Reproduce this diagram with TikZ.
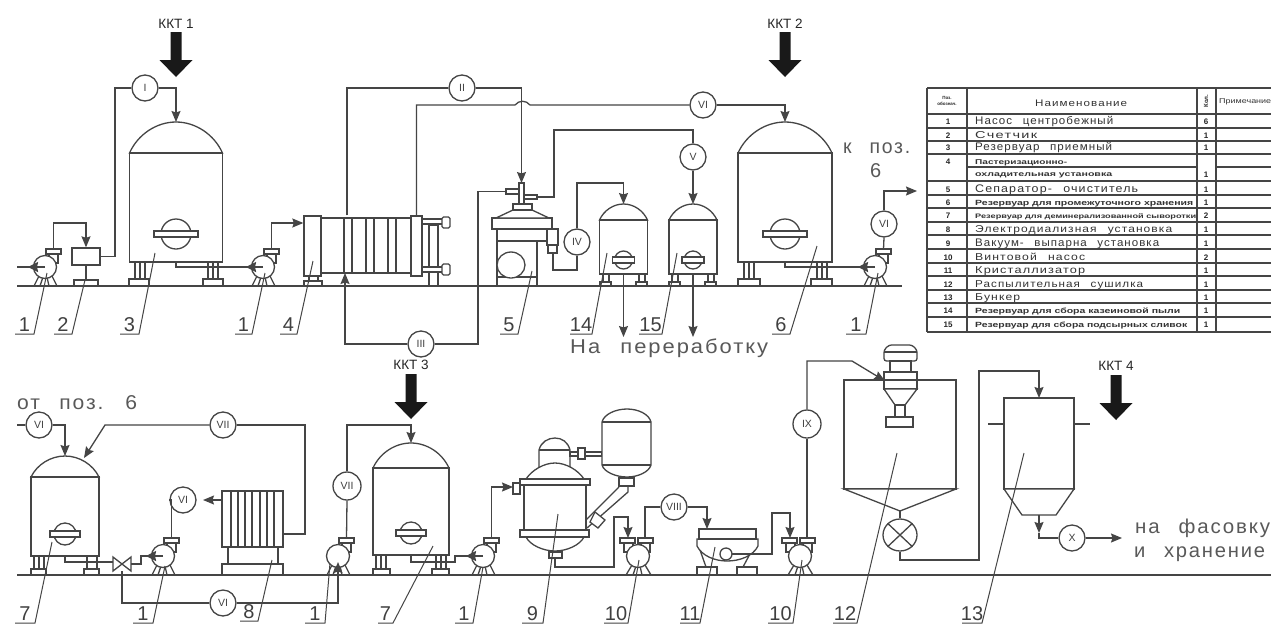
\documentclass[tikz,border=0pt]{standalone}
\usepackage{fontspec}
\setmainfont{Liberation Sans}
\newfontfamily\widefont[LetterSpace=9,WordSpace=2.5]{Liberation Sans}
\usepackage{graphicx}
\usetikzlibrary{arrows.meta,calc,shapes.geometric}
\definecolor{ink}{gray}{0.27}
\definecolor{txt}{gray}{0.25}
\newcommand\fitw[2]{\resizebox{#1pt}{\height}{#2}}
\newcommand\fs[1]{\fontsize{#1}{#1}\selectfont}
\newcommand\spaced{\widefont}
\tikzset{
  pipe/.style={draw=ink,line width=1.3pt,line join=miter},
  flow/.style={pipe,-{Stealth[length=11pt,width=9pt,inset=1.5pt]}},
  eqp/.style={draw=ink,line width=1.3pt,fill=white},
  lead/.style={draw=ink,line width=1pt},
  numc/.style={circle,draw=ink,line width=1.3pt,fill=white,minimum size=26pt,inner sep=0pt,text=txt,font=\fs{10.5}},
  poslbl/.style={text=txt,font=\fs{20},inner sep=0pt,anchor=base},
  big/.style={text=black!65,inner sep=0pt,anchor=base west,font=\fs{20}},
  kkt/.style={text=black!85,inner sep=0pt,font=\fs{13.5}},
  tcell/.style={text=black!80,inner sep=0pt,anchor=base west},
  tnum/.style={text=black!85,inner sep=0pt,anchor=base,font=\fs{8}\bfseries},
  tline/.style={draw=ink,line width=1.5pt},
}
% big black arrow: centre x, top y
\newcommand\bigarrow[2]{\fill[black!90] (#1-5.5,#2) -- (#1+5.5,#2) -- (#1+5.5,#2+28) -- (#1+16.5,#2+28) -- (#1,#2+45) -- (#1-16.5,#2+28) -- (#1-5.5,#2+28) -- cycle;}
% vessel: name, cx, top, shoulder, bottom, halfwidth
\newcommand\vessel[6]{%
  \pgfmathsetmacro\ha{#6}\pgfmathsetmacro\hh{#4-#3}%
  \pgfmathsetmacro\cxa{0.82*\ha}\pgfmathsetmacro\cxb{0.42*\ha}%
  \pgfmathsetmacro\cya{#4-0.6*\hh}%
  \begin{scope}[shift={(#2,0)}]
    \draw[eqp] (-\ha,#4) .. controls (-\cxa,\cya) and (-\cxb,#3) .. (0,#3) .. controls (\cxb,#3) and (\cxa,\cya) .. (\ha,#4) -- cycle;
    \draw[eqp] (-\ha,#4) rectangle (\ha,#5);
    \coordinate (#1-top) at (0,#3);
    \coordinate (#1-bot) at (0,#5);
  \end{scope}}
% manhole: cx, cy, r, band half width
\newcommand\manhole[4]{%
  \draw[eqp] (#1,#2) circle [radius=#3];
  \draw[eqp] (#1-#4,#2-3) rectangle (#1+#4,#2+3);}
% leg: x1,x2,ytop,ybase,bx1,bx2,yground
\newcommand\leg[7]{%
  \draw[eqp] (#1,#3) rectangle (#2,#4);
  \draw[eqp] (#5,#4) rectangle (#6,#7);}
% pump: name, cx, cy
\newcommand\pumpbody[3]{%
  \begin{scope}[shift={(#2,#3)}]
    \draw[pipe] (-6,9) -- (-11,19) (-2,10) -- (-5,19) (2,10) -- (4,19) (7,9) -- (12,19);
    \draw[eqp] (4,-13) rectangle (13,-4);
    \draw[eqp] (0,0) circle [radius=11.5];
    \draw[eqp] (1,-18) rectangle (16,-13);
    \coordinate (#1) at (0,0);
    \coordinate (#1-out) at (8.5,-18);
  \end{scope}}
\newcommand\pumpin[1]{\draw[pipe,line width=2pt,-{Stealth[length=10pt,width=10pt,inset=1pt]}] ($(#1)+(0,0)$) -- ($(#1)+(-17,0)$);}
% screw pump with two flanges
\newcommand\screwpump[3]{%
  \begin{scope}[shift={(#2,#3)}]
    \draw[pipe] (-6,9) -- (-12,19) (-2,10) -- (-5,19) (2,10) -- (4,19) (7,9) -- (13,19);
    \draw[eqp] (-14,-13) rectangle (-5,-4);
    \draw[eqp] (3,-13) rectangle (12,-4);
    \draw[eqp] (0,0) circle [radius=11.5];
    \draw[eqp] (-18,-18) rectangle (-3,-13);
    \draw[eqp] (0,-18) rectangle (15,-13);
    \coordinate (#1-in) at (-10,-18);
    \coordinate (#1-out) at (7,-18);
  \end{scope}}
% position label: name, x1, x2, y, leader end, text
\newcommand\plabel[6]{%
  \coordinate (#1-l) at (#2,#4);
  \coordinate (#1-r) at (#3,#4);
  \coordinate (#1-e) at (#5);
  \draw[lead] (#1-l) -- (#1-r) -- (#1-e);
  \node[poslbl] (#1) at ({(#2+#3)/2},#4-2.5) {#6};}
% table row: id, baseline y, text width, font style, text, qty
\newcommand\trow[6]{%
  \node[tnum] (t#1n) at (948,#2) {#1};
  \node[tcell,font=#4] (t#1) at (975,#2) {\fitw{#3}{#5}};
  \node[tnum] (t#1q) at (1206,#2) {#6};}

\begin{document}
\begin{tikzpicture}[x=1pt,y=-1pt]
\useasboundingbox (0,0) rectangle (1271,630);
\fill[white] (0,0) rectangle (1271,630);

% ---- ground lines
\coordinate (g1a) at (17,286); \coordinate (g1b) at (902,286);
\coordinate (g2a) at (17,575); \coordinate (g2b) at (1271,575);

% ---- top row equipment
\node[eqp,minimum width=28pt,minimum height=17pt,inner sep=0pt] (box2) at (86,256.5) {};
\draw[eqp] (74,280) rectangle (98,286);
\draw[pipe,line width=2pt] (box2.south) -- (86,280);

\vessel{t3}{176}{122}{153}{262}{46.5}
\leg{135}{145}{262}{279}{129}{149}{286}
\draw[pipe] (140,262) -- (140,279);
\leg{208}{218}{262}{279}{203}{223}{286}
\draw[pipe] (213,262) -- (213,279);
\manhole{176}{234}{15}{22}

\pumpbody{p1}{45}{267}
\pumpbody{p2}{263}{267}
\pumpbody{p3}{875}{267}

% heat exchanger 4
\draw[eqp] (309,276) rectangle (318,281);
\draw[eqp] (304,281) rectangle (322,286);
\draw[eqp] (321,218) rectangle (411,273);
\foreach \vx in {344,352,366,374,388,396} {\draw[pipe] (\vx,218) -- (\vx,273);}
\draw[eqp] (429,225) rectangle (438,286);
\draw[eqp] (422,219) rectangle (443,224);
\draw[eqp] (422,267) rectangle (443,272);
\draw[eqp,rounded corners=1.5pt] (442,217) rectangle (450,228);
\draw[eqp,rounded corners=1.5pt] (442,264) rectangle (450,275);
\node[eqp,minimum width=17pt,minimum height=60pt,inner sep=0pt] (hxl) at (312.5,246) {};
\node[eqp,minimum width=11pt,minimum height=60pt,inner sep=0pt] (hxr) at (416.5,246) {};
\coordinate (hxin) at (345,273);

% separator 5
\draw[eqp] (497,241) rectangle (537,286);
\draw[pipe] (497,277) -- (537,277);
\draw[eqp] (511,265) ellipse [x radius=14,y radius=13];
\draw[eqp] (497,229) rectangle (547,241);
\draw[eqp] (547,229) rectangle (558,245);
\draw[eqp] (548,245) rectangle (557,253);
\draw[eqp] (492,218) rectangle (552,229);
\draw[eqp] (513,210) -- (532,210) -- (549,218) -- (496,218) -- cycle;
\draw[eqp] (513,204) rectangle (532,210);
\draw[eqp] (506,189) rectangle (519,194);
\draw[eqp] (524,195) rectangle (537,199);
\draw[eqp] (519,183) rectangle (524,204);
\coordinate (s5top) at (521.5,183);
\coordinate (s5in) at (506,191.5);
\coordinate (s5out) at (537,197);
\coordinate (s5drain) at (553,253);

% tanks 14, 15, 6
\vessel{t14}{623.5}{204}{220}{274}{24}
\leg{603}{609}{274}{282}{600}{611}{286}
\leg{639}{645}{274}{282}{636}{647}{286}
\manhole{623.5}{260}{9}{11}
\vessel{t15}{693}{204}{220}{274}{24}
\leg{672}{678}{274}{282}{669}{680}{286}
\leg{708}{714}{274}{282}{705}{716}{286}
\manhole{693}{260}{9}{11}
\vessel{t6}{785}{122}{153}{262}{47}
\leg{744}{754}{262}{279}{738}{760}{286}
\draw[pipe] (749,262) -- (749,279);
\leg{817}{827}{262}{279}{811}{832}{286}
\draw[pipe] (822,262) -- (822,279);
\manhole{785}{234}{15}{22}

% ---- top row circle labels
\node[numc] (c1) at (145,88) {I};
\node[numc] (c2) at (462,88) {II};
\node[numc] (c3) at (421,344) {III};
\node[numc] (c4) at (577,242) {IV};
\node[numc] (c5) at (693,157) {V};
\node[numc] (c6) at (703,105) {VI};
\node[numc] (c6b) at (884,224) {VI};

% ---- top row connectors
\coordinate (in1) at (17,267);
\draw[pipe] (in1) -- (p1);
\draw[flow] (p1-out) |- (box2.north |- 0,223) -- (box2.north);
\draw[pipe] (box2.east) -| (115,88) -- (c1.west);
\draw[flow] (c1.east) -| (t3-top);
\draw[pipe] (t3-bot) -- (176,267) -- (p2);
\pumpin{p1} \pumpin{p2}
\draw[flow] (p2-out) |- (hxl.west |- 0,223);
\draw[pipe] (hxl.north -| 347,0) -- (347,88) -- (c2.west);
\draw[flow] (c2.east) -| (s5top);
\draw[pipe] (hxr.north) -- (416.5,105) -- (515,105) .. controls (519,100) and (526,100) .. (530,105) -- (c6.west);
\draw[flow] (c6.east) -| (t6-top);
\draw[flow] (c3.west) -| (hxin);
\draw[pipe] (c3.east) -- (478,344) |- (s5in);
\draw[pipe] (s5out) -- (554,197) |- (693,130) -- (c5.north);
\draw[flow] (c5.south) -- (t15-top);
\draw[pipe] (s5drain) |- (577,270) -- (c4.south);
\draw[flow] (c4.north) |- (623.5,183) -- (t14-top);
\coordinate (t14end) at (623.5,337);
\coordinate (t15end) at (693,337);
\draw[flow] (t14-bot) -- (t14end);
\draw[flow] (t15-bot) -- (t15end);
\draw[pipe] (t6-bot) -- (785,267) -- (p3);
\pumpin{p3}
\draw[pipe] (p3-out) -- (c6b.south);
\coordinate (c6end) at (917,191);
\draw[flow] (c6b.north) |- (c6end);

\draw[pipe] (g1a) -- (g1b);

% ---- bottom row equipment
\vessel{t7a}{65}{456}{477}{556}{34}
\leg{34}{44}{556}{569}{31}{46}{575}
\draw[pipe] (39,556) -- (39,569);
\leg{87}{97}{556}{569}{84}{99}{575}
\manhole{65}{534}{11}{15}
\pumpbody{p4}{163}{556}
\pumpbody{p5}{338}{556}
\pumpbody{p6}{483}{556}

% valve
\coordinate (vc) at (122,564);
\draw[eqp] (113,557) -- (131,571) -- (131,557) -- (113,571) -- cycle;

% electrodialysis 8
\draw[eqp] (222,564) rectangle (283,575);
\draw[pipe] (228,547) -- (228,564) (278,547) -- (278,564);
\draw[eqp] (222,491) rectangle (283,547);
\foreach \vx in {231,238,245,252,260,267,274} {\draw[pipe] (\vx,491) -- (\vx,547);}
\coordinate (ed-in) at (203,500);
\coordinate (ed-r) at (283,534);
\coordinate (ed-l) at (222,500);

\vessel{t7b}{411}{443}{468}{555}{38}
\leg{376}{386}{555}{569}{373}{390}{575}
\draw[pipe] (381,555) -- (381,569);
\leg{436}{446}{555}{569}{432}{449}{575}
\draw[pipe] (441,555) -- (441,569);
\manhole{411}{533}{11}{15}

% evaporator 9
\draw[eqp] (539,456) -- (539,450) .. controls (541,442) and (548,438) .. (555,438) .. controls (562,438) and (568,442) .. (570,450) -- (570,468) -- (539,468) -- cycle;
\draw[pipe] (539,450) -- (570,450);
\draw[eqp] (570,452) rectangle (602,456);
\draw[eqp] (578,448) rectangle (585,459);
\draw[eqp] (602,422) .. controls (604,414) and (616,409) .. (627,409) .. controls (638,409) and (649,414) .. (651,422) -- (651,465) .. controls (649,472) and (638,477) .. (627,477) .. controls (616,477) and (604,472) .. (602,465) -- cycle;
\draw[pipe] (602,422) -- (651,422) (602,465) -- (651,465);
\draw[pipe] (619,487) -- (586,520);
\draw[pipe] (628,486) -- (628,492) -- (587,528);
\draw[eqp] (595,512) -- (605,520) -- (598,528) -- (590,522) -- cycle;
\draw[eqp] (619,478) rectangle (634,486);
\draw[eqp] (524,485) rectangle (586,530);
\draw[eqp] (526,479) .. controls (532,470) and (544,463) .. (555,463) .. controls (566,463) and (578,470) .. (584,479) -- cycle;
\draw[eqp] (520,479) rectangle (590,485);
\draw[eqp] (526,537) .. controls (530,545) and (543,551) .. (555,551) .. controls (567,551) and (580,545) .. (584,537) -- cycle;
\draw[eqp] (520,530) rectangle (589,537);
\draw[eqp] (549,552) rectangle (562,558);
\draw[eqp] (513,483) rectangle (520,494);
\coordinate (ev-in) at (513,487);
\coordinate (ev-out) at (555,558);

% screw pumps
\screwpump{sp1}{638}{556}
\screwpump{sp2}{800}{556}

% crystallizer 11
\draw[pipe] (700,550) -- (706,567) (752,550) -- (743,567);
\draw[eqp] (697,567) rectangle (717,575);
\draw[eqp] (737,567) rectangle (757,575);
\draw[eqp] (697,539) -- (697,546) .. controls (702,556) and (715,561) .. (727,561) .. controls (740,561) and (753,556) .. (758,546) -- (758,539) -- cycle;
\draw[eqp] (699,529) rectangle (756,539);
\draw[eqp] (726,554) circle [radius=6];
\coordinate (cr-top) at (707,529);
\coordinate (cr-out) at (732,554);

% spray dryer 12
\draw[eqp] (844,380) rectangle (956,489);
\draw[eqp] (844,489) -- (956,489) -- (900,511) -- cycle;
\coordinate (dry-cone) at (900,511);
\draw[eqp,rounded corners=2.5pt] (884,361) -- (884,350) -- (889,345) -- (912,345) -- (917,350) -- (917,361) -- cycle;
\draw[pipe] (884,352) -- (917,352);
\draw[eqp] (890,361) rectangle (911,372);
\draw[eqp] (884,372) rectangle (917,389);
\draw[pipe] (884,380) -- (917,380);
\draw[eqp] (884,389) -- (917,389) -- (905,405) -- (895,405) -- cycle;
\draw[eqp] (895,405) rectangle (905,417);
\draw[eqp] (886,417) rectangle (913,427);
\coordinate (dry-in) at (885,381);
\node[draw=ink,line width=1.3pt,fill=white,ellipse,minimum width=34pt,minimum height=32pt,inner sep=0pt] (dv) at (900,535) {};
\draw[pipe] (dv.north west) -- (dv.south east) (dv.north east) -- (dv.south west);

% bunker 13
\draw[eqp] (1004,398) rectangle (1074,489);
\draw[eqp] (1004,489) -- (1074,489) -- (1056,515) -- (1022,515) -- cycle;
\coordinate (bu-tl) at (1004,424); \coordinate (bu-l) at (988,424);
\coordinate (bu-tr) at (1074,424); \coordinate (bu-r) at (1090,424);
\draw[pipe] (bu-l) -- (bu-tl) (bu-tr) -- (bu-r);
\coordinate (bu-top) at (1039,398);
\coordinate (bu-bot) at (1039,515);

% ---- bottom row circle labels
\node[numc] (d6) at (39,425) {VI};
\node[numc] (d7) at (223,425) {VII};
\node[numc] (d6b) at (183,500) {VI};
\node[numc] (d6c) at (223,603) {VI};
\node[numc,minimum size=28pt] (d7b) at (347,486) {VII};
\node[numc] (d8) at (674,507) {VIII};
\node[numc,minimum size=28pt] (d9) at (807,424) {IX};
\node[numc] (dx) at (1072,538) {X};

% ---- bottom row connectors
\coordinate (stub) at (17,425);
\draw[pipe] (stub) -- (d6.west);
\draw[flow] (d6.east) -| (t7a-top);
\coordinate (t7a-r) at (84,458);
\draw[flow] (d7.west) -- (105,425) -- (t7a-r);
\draw[pipe] (ed-r) -| (305,425) -- (d7.east);
\draw[pipe] (t7a-bot) -- (65,562) -- (113,562);
\draw[pipe] (131,564) -- (141,564) -- (141,556) -- (p4);
\pumpin{p4}
\draw[pipe] (p4-out) |- (d6b.west);
\draw[flow] (ed-l) -- (ed-in);
\draw[pipe] (122,571) |- (d6c.west);
\coordinate (p5in) at (338,562);
\draw[flow] (d6c.east) -| (p5in);
\draw[pipe] (p5-out) -- (d7b.south);
\draw[flow] (d7b.north) |- (411,425) -- (t7b-top);
\draw[pipe] (t7b-bot) -- (411,562) -- (455,562) -- (455,556) -- (p6);
\pumpin{p6}
\draw[flow] (p6-out) |- (ev-in);
\draw[flow] (ev-out) -- (555,567) -| (614,517) -| (sp1-in);
\draw[pipe] (sp1-out) |- (d8.west);
\draw[flow] (d8.east) -| (cr-top);
\draw[flow] (cr-out) -- (772,554) |- (790,513) -- (sp2-in);
\draw[pipe] (sp2-out) -- (d9.south);
\draw[flow] (d9.north) -- (807,361) -- (852,361) -- (dry-in);
\draw[pipe] (dry-cone) -- (dv.north);
\draw[flow] (dv.south) -- (900,560) -| (979,371) -| (bu-top);
\draw[flow] (bu-bot) -- (1039,533);
\draw[pipe] (1039,533) |- (dx.west);
\coordinate (xend) at (1122,538);
\draw[flow] (dx.east) -- (xend);

\draw[pipe] (g2a) -- (g2b);

% ---- big arrows and KKT labels
\bigarrow{176}{32}
\bigarrow{785}{32}
\bigarrow{411}{374}
\bigarrow{1116}{375}
\node[kkt] (k1) at (176,24) {ККТ 1};
\node[kkt] (k2) at (785,24) {ККТ 2};
\node[kkt] (k3) at (411,365) {ККТ 3};
\node[kkt] (k4) at (1116,366) {ККТ 4};

% ---- position labels
\plabel{n1}{15}{34}{334}{47,273}{1}
\plabel{n2}{54}{72}{334}{85,280}{2}
\plabel{n3}{120}{139}{334}{155,253}{3}
\plabel{n4}{235}{252}{334}{265,273}{1}
\plabel{n5}{280}{297}{334}{313,261}{4}
\plabel{n6}{500}{518}{334}{532,271}{5}
\plabel{n7}{570}{592}{334}{607,253}{14}
\plabel{n8}{639}{662}{334}{677,253}{15}
\plabel{n9}{772}{790}{334}{817,246}{6}
\plabel{n10}{846}{866}{334}{878,273}{1}
\plabel{m1}{15}{35}{623}{52,542}{7}
\plabel{m2}{133}{153}{623}{165,566}{1}
\plabel{m3}{240}{258}{621}{272,560}{8}
\plabel{m4}{305}{325}{623}{330,563}{1}
\plabel{m5}{378}{393}{623}{433,546}{7}
\plabel{m6}{455}{473}{623}{483,567}{1}
\plabel{m7}{522}{543}{623}{558,514}{9}
\plabel{m8}{604}{628}{623}{639,560}{10}
\plabel{m9}{680}{700}{623}{715,547}{11}
\plabel{m10}{768}{793}{623}{802,560}{10}
\plabel{m11}{833}{857}{623}{897,453}{12}
\plabel{m12}{962}{982}{623}{1024,453}{13}

% ---- free text
\node[big] (tx1) at (570,353) {\fitw{198}{\spaced На переработку}};
\node[big] (tx2) at (843,153) {\fitw{67}{\spaced к поз.}};
\node[big] (tx3) at (870,177) {6};
\node[big] (tx4) at (17,409) {\fitw{120}{\spaced от поз. 6}};
\node[big] (tx5) at (1135,533) {\fitw{135}{\spaced на фасовку}};
\node[big] (tx6) at (1134,557) {\fitw{131}{\spaced и хранение}};

% ---- table
\draw[tline] (927,88) -- (1271,88) (927,332) -- (1271,332);
\foreach \ry in {114,128,141,154,181,195,208,222,235,249,263,276,290,303,317} {\draw[tline] (927,\ry) -- (1271,\ry);}
\draw[tline] (967,167) -- (1197,167);
\draw[tline] (1216,167) -- (1271,167);
\draw[tline] (927,88) -- (927,332);
\draw[tline] (967,88) -- (967,332);
\draw[draw=ink,line width=1.6pt] (1197,88) -- (1197,332);
\draw[tline] (1216,88) -- (1216,332);
\node[text=black!85,inner sep=0pt,font=\fs{4.5}\bfseries,align=center] (th1) at (947,101) {Поз.\\[1pt]обознач.};
\node[tcell,font=\fs{9.5}] (th2) at (1035,106) {\fitw{92}{\spaced Наименование}};
\node[text=black!85,inner sep=0pt,font=\fs{6}\bfseries,rotate=90] (th3) at (1206,101) {Кол.};
\node[tcell,font=\fs{7}] (th4) at (1219,103) {\fitw{52}{Примечание}};
\trow{1}{124}{138}{\fs{11}}{\spaced Насос центробежный}{6}
\trow{2}{138}{62}{\fs{10}}{\spaced Счетчик}{1}
\trow{3}{150}{137}{\fs{11}}{\spaced Резервуар приемный}{1}
\node[tnum] (t4n) at (948,164) {4};
\node[tcell,font=\fs{7}\bfseries] (t4a) at (975,164) {\fitw{92}{Пастеризационно-}};
\node[tcell,font=\fs{7}\bfseries] (t4b) at (975,176) {\fitw{137}{охладительная установка}};
\node[tnum] (t4q) at (1206,177) {1};
\trow{5}{192}{163}{\fs{11}}{\spaced Сепаратор- очиститель}{1}
\trow{6}{205}{218}{\fs{7.5}\bfseries}{Резервуар для промежуточного хранения}{1}
\trow{7}{218}{221}{\fs{6.5}\bfseries}{Резервуар для деминерализованной сыворотки}{2}
\trow{8}{232}{197}{\fs{10}}{\spaced Электродиализная установка}{1}
\trow{9}{246}{184}{\fs{11}}{\spaced Вакуум- выпарна установка}{1}
\trow{10}{260}{110}{\fs{10}}{\spaced Винтовой насос}{2}
\trow{11}{273}{110}{\fs{10}}{\spaced Кристаллизатор}{1}
\trow{12}{287}{168}{\fs{10}}{\spaced Распылительная сушилка}{1}
\trow{13}{300}{45}{\fs{10}}{\spaced Бункер}{1}
\trow{14}{313}{205}{\fs{7.5}\bfseries}{Резервуар для сбора казеиновой пыли}{1}
\trow{15}{327}{212}{\fs{7.5}\bfseries}{Резервуар для сбора подсырных сливок}{1}
\end{tikzpicture}
\end{document}
